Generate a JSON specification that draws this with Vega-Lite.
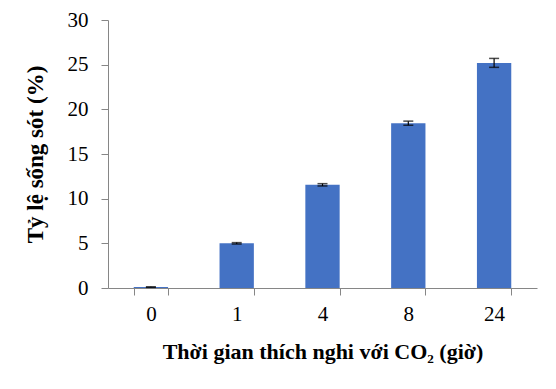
{
  "$schema": "https://vega.github.io/schema/vega-lite/v6.json",
  "width": 429,
  "height": 268,
  "autosize": "none",
  "padding": {"left": 108, "top": 20, "right": 19, "bottom": 101},
  "background": "white",
  "config": {"view": {"stroke": null}, "font": "Liberation Serif"},
  "data": {"values": [
    {"time": "0", "value": 0.1, "lo": 0.07, "hi": 0.13},
    {"time": "1", "value": 5.0, "lo": 4.92, "hi": 5.08},
    {"time": "4", "value": 11.55, "lo": 11.42, "hi": 11.68},
    {"time": "8", "value": 18.45, "lo": 18.22, "hi": 18.68},
    {"time": "24", "value": 25.2, "lo": 24.7, "hi": 25.7}
  ]},
  "encoding": {
    "x": {
      "field": "time", "type": "nominal", "sort": null,
      "scale": {"paddingInner": 0.6, "paddingOuter": 0.3},
      "axis": {
        "title": "Thời gian thích nghi với CO₂ (giờ)",
        "titleFont": "Liberation Serif", "titleFontSize": 22, "titleFontWeight": "bold", "titleColor": "black",
        "titlePadding": 17,
        "labelFont": "Liberation Serif", "labelFontSize": 21, "labelColor": "black", "labelAngle": 0,
        "labelPadding": 8,
        "tickBand": "extent", "tickSize": 7, "tickColor": "#868686", "domainColor": "#868686"
      }
    }
  },
  "layer": [
    {
      "mark": {"type": "bar", "color": "#4472C4"},
      "encoding": {
        "y": {
          "field": "value", "type": "quantitative",
          "scale": {"domain": [0, 30]},
          "title": "Tỷ lệ sống sót (%)",
          "axis": {
            "title": "Tỷ lệ sống sót (%)", "values": [0, 5, 10, 15, 20, 25, 30],
            "titleFont": "Liberation Serif", "titleFontSize": 23, "titleFontWeight": "bold", "titleColor": "black",
            "titlePadding": 20,
            "labelFont": "Liberation Serif", "labelFontSize": 21, "labelColor": "black", "labelPadding": 13,
            "grid": false, "tickSize": 7, "tickColor": "#868686", "domainColor": "#868686"
          }
        }
      }
    },
    {
      "mark": {"type": "errorbar", "ticks": {"size": 10, "color": "black", "thickness": 1.5}, "rule": {"color": "black", "strokeWidth": 1.2}},
      "encoding": {
        "y": {"field": "lo", "type": "quantitative", "title": "Tỷ lệ sống sót (%)"},
        "y2": {"field": "hi"}
      }
    }
  ]
}
